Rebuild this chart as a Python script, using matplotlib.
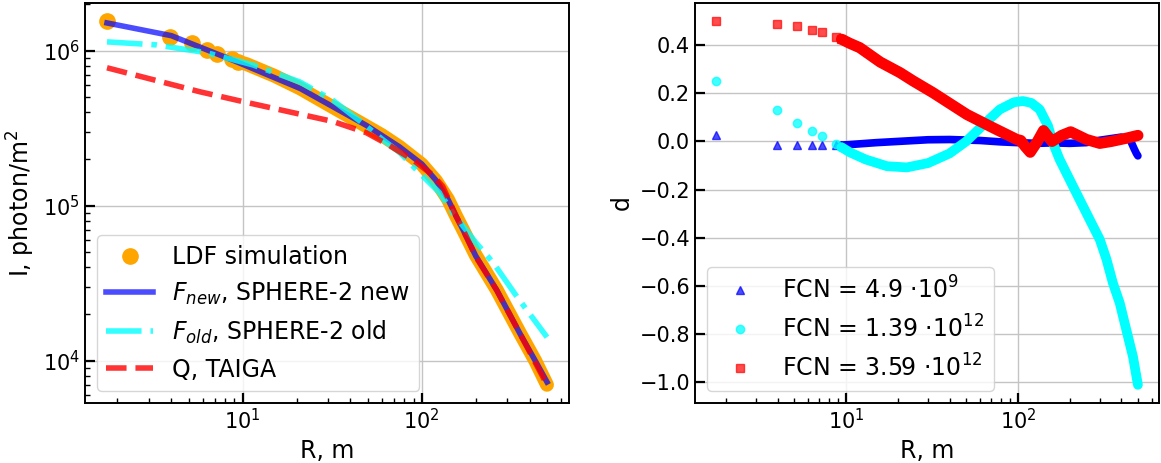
import numpy as np
import matplotlib
matplotlib.use("Agg")
import matplotlib.pyplot as plt

# ---------------- data ----------------
# sparse inner detector radii (m)
R_inner = [1.75, 3.95, 5.2, 6.3, 7.2, 8.7, 9.4]

# Left panel: LDF simulation (photon/m^2)
I_ldf_inner = [1.55e6, 1.22e6, 1.12e6, 1.01e6, 0.95e6, 0.88e6, 0.85e6]
R_ldf_outer = [9.4, 10.5, 15, 21, 30, 45, 60, 75, 100, 120, 140, 156, 170, 200, 262, 353, 430, 500]
I_ldf_outer = [8.5e5, 8.2e5, 6.9e5, 5.7e5, 4.5e5, 3.45e5, 2.85e5, 2.4e5, 1.85e5, 1.45e5, 1.1e5,
               8.5e4, 7.0e4, 4.8e4, 2.87e4, 1.51e4, 1.0e4, 7.0e3]

# F_new, SPHERE-2 new
R_new = [1.75, 4, 9, 21, 49, 75, 100, 120, 140, 156, 170, 200, 262, 353, 430, 500]
I_new = [1.51e6, 1.25e6, 8.6e5, 5.7e5, 3.3e5, 2.4e5, 1.86e5, 1.46e5, 1.1e5, 8.5e4,
         7.0e4, 4.75e4, 2.86e4, 1.50e4, 1.0e4, 7.3e3]

# F_old, SPHERE-2 old
R_old = [1.75, 3.3, 6.3, 11.4, 20.8, 31.8, 46.9, 60.5, 75.5, 97, 126, 150, 200, 250, 339, 500]
I_old = [1.14e6, 1.09e6, 9.7e5, 8.1e5, 6.3e5, 4.8e5, 3.4e5, 2.67e5, 2.2e5, 1.63e5,
         1.21e5, 8.9e4, 5.8e4, 4.3e4, 2.6e4, 1.42e4]

# Q, TAIGA
R_q = [1.75, 5.75, 10, 20.8, 31.8, 49, 66, 89, 115, 131, 156, 170, 200, 262, 353, 500]
I_q = [7.76e5, 5.44e5, 4.7e5, 3.9e5, 3.5e5, 2.96e5, 2.45e5, 1.98e5, 1.58e5, 1.33e5,
       8.5e4, 7.0e4, 4.7e4, 2.85e4, 1.5e4, 7.0e3]

# Right panel: relative deviations d
d_new_inner = [0.025, -0.015, -0.015, -0.016, -0.016, -0.015, -0.015]
R_new_d = [9.4, 10.5, 15, 20, 30, 40, 60, 80, 100, 130, 160, 200, 250, 300, 350, 400, 450, 475, 490, 500]
d_new_outer = [-0.015, -0.013, -0.005, 0.0, 0.007, 0.008, 0.004, -0.002, -0.005, -0.008, -0.006,
               -0.008, -0.005, 0.005, 0.012, 0.018, 0.008, -0.03, -0.05, -0.06]

d_old_inner = [0.253, 0.13, 0.078, 0.045, 0.022, -0.01, -0.024]
R_old_d = [9.4, 10.5, 13, 17.3, 22.6, 30, 40, 50, 62.7, 78.5, 95, 107, 120, 134, 150, 160,
           175, 200, 229, 262, 300, 328, 358, 392, 428, 468, 500]
d_old_outer = [-0.024, -0.045, -0.075, -0.103, -0.108, -0.09, -0.05, 0.0, 0.068, 0.133,
               0.163, 0.168, 0.16, 0.133, 0.064, -0.006, -0.075, -0.158, -0.242, -0.325,
               -0.408, -0.49, -0.59, -0.672, -0.783, -0.895, -1.012]

d_q_inner = [0.50, 0.49, 0.479, 0.464, 0.454, 0.433, 0.425]
R_q_d = [9.4, 10.5, 12, 15.8, 20.6, 24.5, 32, 50.5, 71.6, 98.6, 104, 110, 118, 130, 141, 150,
         158, 180, 203, 251, 300, 350, 420, 500]
d_q_outer = [0.425, 0.408, 0.39, 0.33, 0.286, 0.252, 0.203, 0.112, 0.057, 0.008, 0.004, -0.02,
             -0.045, 0.0, 0.045, 0.02, 0.0, 0.025, 0.04, 0.008, -0.008, 0.0, 0.012, 0.025]

labels_left = ["LDF simulation", r"$F_{new}$, SPHERE-2 new",
               r"$F_{old}$, SPHERE-2 old", "Q, TAIGA"]
labels_right = [r"FCN = 4.9 $\cdot 10^{9}$", r"FCN = 1.39 $\cdot 10^{12}$",
                r"FCN = 3.59 $\cdot 10^{12}$"]

# ---------------- figure ----------------
plt.rcParams.update({
    "font.size": 17,
    "xtick.labelsize": 15,
    "ytick.labelsize": 15,
    "axes.linewidth": 1.4,
})

fig = plt.figure(figsize=(11.61, 4.63), dpi=100)
axL = fig.add_axes([85 / 1161, 60 / 463, 484 / 1161, 400 / 463])
axR = fig.add_axes([695 / 1161, 60 / 463, 464 / 1161, 400 / 463])

# Left panel
axL.plot(R_ldf_outer, I_ldf_outer, '-', color='orange', lw=10,
         solid_capstyle='round', solid_joinstyle='round')
axL.plot(R_inner, I_ldf_inner, 'o', color='orange', ms=11, label=labels_left[0])
axL.plot(R_new, I_new, '-', color='blue', alpha=0.7, lw=4, label=labels_left[1])
axL.plot(R_old, I_old, '-.', color='cyan', alpha=0.8, lw=4, label=labels_left[2])
axL.plot(R_q, I_q, '--', color='red', alpha=0.8, lw=4, label=labels_left[3])
axL.set_xscale('log')
axL.set_yscale('log')
axL.set_xlabel("R, m")
axL.set_ylabel(r"I, photon/m$^2$")
axL.grid(True, which='major', color='#c4c4c4', lw=1.0)
axL.legend(loc='lower left', fontsize=17)

# Right panel
series = [
    (d_new_inner, R_new_d, d_new_outer, 'blue', '^', 0.7, 5.5),
    (d_old_inner, R_old_d, d_old_outer, 'cyan', 'o', 0.75, 7.0),
    (d_q_inner, R_q_d, d_q_outer, 'red', 's', 0.7, 8.0),
]
for (din, Rout, dout, col, mk, al, lw), lab in zip(series, labels_right):
    axR.plot(Rout, dout, '-', color=col, lw=lw,
             solid_capstyle='round', solid_joinstyle='round')
    axR.plot(R_inner, din, mk, color=col, alpha=al, ms=6,
             ls='none', label=lab)
axR.set_xscale('log')
axR.set_xlabel("R, m")
axR.set_ylabel("d")
axR.grid(True, which='major', color='#c4c4c4', lw=1.0)
axR.legend(loc='lower left', fontsize=17)

for ax in (axL, axR):
    ax.tick_params(which='major', direction='in', length=7, width=1.6)
    ax.tick_params(which='minor', direction='in', length=3.5, width=1.0)

fig.savefig("out.png", dpi=100)
